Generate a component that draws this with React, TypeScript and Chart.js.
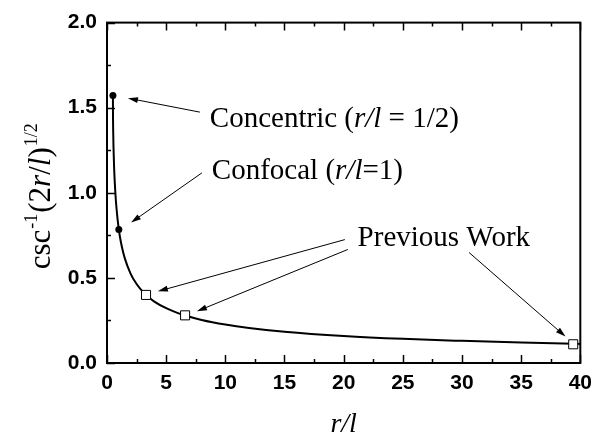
import { useEffect, useRef } from "react";
import { Chart, registerables } from "chart.js";

Chart.register(...registerables);

// Curve csc^-1 (2r/l)^1/2
const curveX = [0.5, 0.505, 0.51, 0.52, 0.55, 0.6, 0.65, 0.7, 0.75, 0.8, 0.9, 1.0, 1.1, 1.25, 1.5, 2, 2.5, 3, 3.3, 4, 5, 6, 6.6, 8, 10, 12, 15, 20, 25, 30, 35, 39.4, 40];
const curveY = [1.571, 1.471, 1.431, 1.373, 1.265, 1.15, 1.07, 1.007, 0.955, 0.912, 0.841, 0.785, 0.739, 0.685, 0.616, 0.524, 0.464, 0.421, 0.4, 0.361, 0.322, 0.293, 0.279, 0.253, 0.226, 0.206, 0.184, 0.159, 0.142, 0.13, 0.12, 0.113, 0.112];

// Concentric and confocal points
const specialX = [0.5, 1.0];
const specialY = [1.571, 0.785];

// Previous work points
const previousX = [3.3, 6.6, 39.4];
const previousY = [0.4, 0.28, 0.11];

// Axis ticks
const xMajorTicks = [0, 5, 10, 15, 20, 25, 30, 35, 40];
const xMinorTicks = [2.5, 7.5, 12.5, 17.5, 22.5, 27.5, 32.5, 37.5];
const yMajorTicks = [0, 0.5, 1.0, 1.5, 2.0];
const yMinorTicks = [0.25, 0.75, 1.25, 1.75];

// Annotations (data units)
const annotationTexts = ["Concentric", "Confocal", "Previous Work"];
const arrowFromX = [7.85, 8.02, 20.1, 20.35, 30.6];
const arrowFromY = [1.474, 1.117, 0.725, 0.667, 0.649];
const arrowToX = [1.77, 2.03, 4.3, 7.6, 38.75];
const arrowToY = [1.556, 0.825, 0.421, 0.304, 0.155];

type Seg = { t: string; i?: boolean };

const SERIF = '"Liberation Serif", "Times New Roman", serif';
const SANS = '"Liberation Sans", Arial, sans-serif';

function drawRich(ctx: CanvasRenderingContext2D, segs: Seg[], x: number, y: number, size: number) {
  let cx = x;
  for (const s of segs) {
    ctx.font = `${s.i ? "italic " : ""}${size}px ${SERIF}`;
    ctx.fillText(s.t, cx, y);
    cx += ctx.measureText(s.t).width;
  }
  return cx;
}

function richWidth(ctx: CanvasRenderingContext2D, segs: Seg[], size: number) {
  let w = 0;
  for (const s of segs) {
    ctx.font = `${s.i ? "italic " : ""}${size}px ${SERIF}`;
    w += ctx.measureText(s.t).width;
  }
  return w;
}

const framePlugin = {
  id: "frameTicks",
  afterDatasetsDraw(chart: any) {
    const ctx: CanvasRenderingContext2D = chart.ctx;
    const { left, right, top, bottom } = chart.chartArea;
    const xs = chart.scales.x;
    const ys = chart.scales.y;
    ctx.save();
    ctx.strokeStyle = "#000";
    ctx.lineWidth = 2;
    ctx.strokeRect(left, top, right - left, bottom - top);
    ctx.lineWidth = 1.5;
    ctx.beginPath();
    const tick = (vals: number[], len: number) => {
      for (const v of vals) {
        const px = Math.round(xs.getPixelForValue(v)) + 0.5;
        ctx.moveTo(px, bottom);
        ctx.lineTo(px, bottom - len);
        ctx.moveTo(px, top);
        ctx.lineTo(px, top + len);
      }
    };
    tick(xMajorTicks, 8);
    tick(xMinorTicks, 4);
    const ytick = (vals: number[], len: number) => {
      for (const v of vals) {
        const py = Math.round(ys.getPixelForValue(v)) + 0.5;
        ctx.moveTo(left, py);
        ctx.lineTo(left + len, py);
      }
    };
    ytick(yMajorTicks, 8);
    ytick(yMinorTicks, 4);
    ctx.stroke();

    // arrows
    ctx.lineWidth = 1;
    ctx.fillStyle = "#000";
    for (let k = 0; k < arrowFromX.length; k++) {
      const x0 = xs.getPixelForValue(arrowFromX[k]);
      const y0 = ys.getPixelForValue(arrowFromY[k]);
      const x1 = xs.getPixelForValue(arrowToX[k]);
      const y1 = ys.getPixelForValue(arrowToY[k]);
      const ang = Math.atan2(y1 - y0, x1 - x0);
      const hl = 10, hw = 3;
      ctx.beginPath();
      ctx.moveTo(x0, y0);
      ctx.lineTo(x1 - hl * 0.8 * Math.cos(ang), y1 - hl * 0.8 * Math.sin(ang));
      ctx.stroke();
      ctx.beginPath();
      ctx.moveTo(x1, y1);
      ctx.lineTo(x1 - hl * Math.cos(ang) + hw * Math.sin(ang), y1 - hl * Math.sin(ang) - hw * Math.cos(ang));
      ctx.lineTo(x1 - hl * Math.cos(ang) - hw * Math.sin(ang), y1 - hl * Math.sin(ang) + hw * Math.cos(ang));
      ctx.closePath();
      ctx.fill();
    }

    // annotation texts
    ctx.textBaseline = "alphabetic";
    ctx.textAlign = "left";
    const fs = 29;
    drawRich(
      ctx,
      [{ t: annotationTexts[0] + " (" }, { t: "r/l", i: true }, { t: " = 1/2)" }],
      xs.getPixelForValue(8.69),
      ys.getPixelForValue(1.386),
      fs
    );
    drawRich(
      ctx,
      [{ t: annotationTexts[1] + " (" }, { t: "r/l", i: true }, { t: "=1)" }],
      xs.getPixelForValue(8.86),
      ys.getPixelForValue(1.082),
      fs
    );
    drawRich(ctx, [{ t: annotationTexts[2] }], xs.getPixelForValue(21.18), ys.getPixelForValue(0.69), fs);

    // x axis title
    const xt: Seg[] = [{ t: "r/l", i: true }];
    const xw = richWidth(ctx, xt, 28);
    drawRich(ctx, xt, (left + right) / 2 - xw / 2, 432, 28);

    // y axis title (rotated)
    const main = 31;
    const sup = 18;
    const parts: { t: string; i?: boolean; s: boolean }[] = [
      { t: "csc", s: false },
      { t: "-1", s: true },
      { t: "(2", s: false },
      { t: "r", i: true, s: false },
      { t: "/", s: false },
      { t: "l", i: true, s: false },
      { t: ")", s: false },
      { t: "1/2", s: true },
    ];
    let total = 0;
    const widths: number[] = [];
    for (const p of parts) {
      ctx.font = `${p.i ? "italic " : ""}${p.s ? sup : main}px ${SERIF}`;
      const w = ctx.measureText(p.t).width + (p.s ? 2 : 0);
      widths.push(w);
      total += w;
    }
    ctx.translate(50, (top + bottom) / 2 + 3);
    ctx.rotate(-Math.PI / 2);
    let cx = -total / 2;
    parts.forEach((p, k) => {
      ctx.font = `${p.i ? "italic " : ""}${p.s ? sup : main}px ${SERIF}`;
      ctx.fillText(p.t, cx + (p.s ? 1 : 0), p.s ? -13 : 0);
      cx += widths[k];
    });
    ctx.restore();
  },
};

export default function App() {
  const ref = useRef<HTMLCanvasElement | null>(null);
  useEffect(() => {
    if (!ref.current) return;
    const chart = new Chart(ref.current, {
      type: "scatter",
      data: {
        datasets: [
          {
            data: curveX.map((x, i) => ({ x, y: curveY[i] })),
            showLine: true,
            borderColor: "#000",
            borderWidth: 2,
            pointRadius: 0,
            cubicInterpolationMode: "monotone",
            order: 3,
          },
          {
            data: specialX.map((x, i) => ({ x, y: specialY[i] })),
            pointStyle: "circle",
            pointRadius: 3.5,
            backgroundColor: "#000",
            borderColor: "#000",
            borderWidth: 0,
            order: 2,
          },
          {
            data: previousX.map((x, i) => ({ x, y: previousY[i] })),
            pointStyle: "rect",
            pointRadius: 6.4,
            backgroundColor: "#fff",
            borderColor: "#000",
            borderWidth: 1,
            order: 1,
          },
        ],
      },
      options: {
        animation: false,
        responsive: false,
        events: [],
        layout: { padding: { left: 0, right: 19, top: 21, bottom: 0 } },
        plugins: { legend: { display: false }, tooltip: { enabled: false } },
        scales: {
          x: {
            type: "linear",
            min: 0,
            max: 40,
            grid: { display: false, drawTicks: false },
            border: { display: false },
            ticks: {
              stepSize: 5,
              padding: 8,
              color: "#000",
              font: { family: SANS, size: 21, weight: "bold" },
              maxRotation: 0,
            },
            afterFit: (s: any) => {
              s.height = 74;
            },
          },
          y: {
            type: "linear",
            min: 0,
            max: 2,
            grid: { display: false, drawTicks: false },
            border: { display: false },
            ticks: {
              stepSize: 0.5,
              padding: 10,
              color: "#000",
              font: { family: SANS, size: 21, weight: "bold" },
              callback: (v: any) => Number(v).toFixed(1),
            },
            afterFit: (s: any) => {
              s.width = 107;
            },
          },
        },
      } as any,
      plugins: [framePlugin],
    });
    return () => chart.destroy();
  }, []);
  return (
    <div style={{ position: "fixed", left: 0, top: 0, width: 600, height: 437, background: "#fff" }}>
      <canvas ref={ref} width={600} height={437} />
    </div>
  );
}
